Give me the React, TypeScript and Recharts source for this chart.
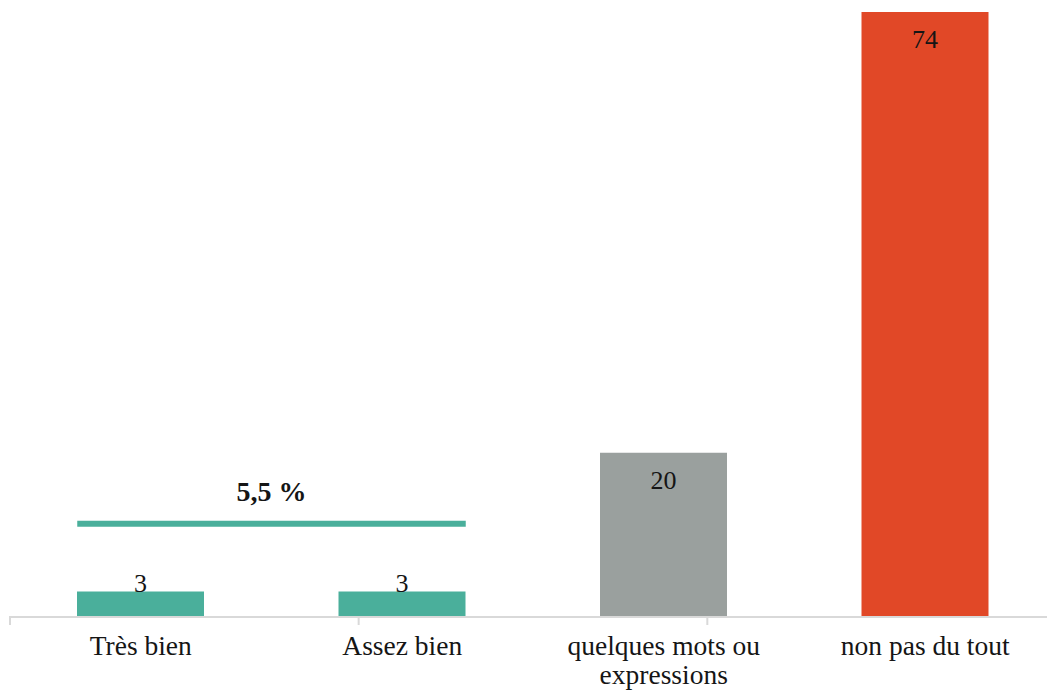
import { BarChart, Bar, XAxis, YAxis, Cell, LabelList, ReferenceLine } from "recharts";

// category labels as they break onto lines under the axis
const tickLines = [["Très bien"], ["Assez bien"], ["quelques mots ou", "expressions"], ["non pas du tout"]];
const categories = tickLines.map((lines) => lines.join(" "));
const values = [3, 3, 20, 74];
const barColors = ["#4aaf9b", "#4aaf9b", "#9aa09e", "#e14827"];
const edgeTicks = [0, 1, 2, 3, 4];

// bracket above the two "bien" bars with their combined share
const groupLabel = "5,5 %";
const groupLevel = 11.3;
const groupFrom = "Très bien";
const groupTo = "Assez bien";

const data = categories.map((name, i) => ({ name, value: values[i] }));

const FONT = "'Liberation Serif', 'DejaVu Serif', serif";
const BAR_SIZE = 127;

const CategoryTick = (props: any) => {
  const { x, y, index } = props;
  const lines = tickLines[index] ?? [props.payload.value];
  return (
    <text x={x} y={y} textAnchor="middle" fontSize={27.5} fontFamily={FONT} fill="#151515">
      {lines.map((line, i) => (
        <tspan key={i} x={x} dy={i === 0 ? 20 : 29}>
          {line}
        </tspan>
      ))}
    </text>
  );
};

const EmptyTick = () => null;

const ValueLabel = (props: any) => {
  const { x, y, width, height, value } = props;
  const inside = height > 60;
  return (
    <text
      x={x + width / 2}
      y={inside ? y + 36 : y}
      textAnchor="middle"
      fontSize={26}
      fontFamily={FONT}
      fill="#151515"
    >
      {value}
    </text>
  );
};

const GroupLine = (props: any) => {
  const { x1, y1, x2, y2 } = props;
  const half = BAR_SIZE / 2;
  return <line x1={x1 - half} y1={y1} x2={x2 + half} y2={y2} stroke="#4aaf9b" strokeWidth={6} />;
};

export default function App() {
  return (
    <div style={{ position: "absolute", left: 0, top: 0, width: 1047, height: 692, overflow: "hidden", background: "#fff" }}>
      <BarChart width={1060} height={692} data={data} margin={{ top: 12, right: 4, left: 10, bottom: 0 }}>
        {/* band boundary ticks, sits right on the baseline */}
        <XAxis
          xAxisId={0}
          type="number"
          domain={[0, 4]}
          ticks={edgeTicks}
          tick={<EmptyTick />}
          axisLine={false}
          tickLine={{ stroke: "#d9d9d9", strokeWidth: 2 }}
          tickSize={9}
          height={1}
        />
        <XAxis
          xAxisId="names"
          dataKey="name"
          axisLine={{ stroke: "#d9d9d9", strokeWidth: 2 }}
          tickLine={false}
          tickSize={0}
          tickMargin={18}
          height={75}
          interval={0}
          tick={<CategoryTick />}
        />
        <YAxis hide domain={[0, 74]} />
        <Bar xAxisId="names" dataKey="value" barSize={BAR_SIZE} isAnimationActive={false}>
          {data.map((d, i) => (
            <Cell key={d.name} fill={barColors[i]} />
          ))}
          <LabelList dataKey="value" content={<ValueLabel />} />
        </Bar>
        <ReferenceLine
          xAxisId="names"
          segment={[
            { x: groupFrom, y: groupLevel },
            { x: groupTo, y: groupLevel },
          ]}
          shape={<GroupLine />}
          label={{
            value: groupLabel,
            position: "top",
            offset: 23,
            fontSize: 28,
            fontWeight: "bold",
            fontFamily: FONT,
            fill: "#151515",
          }}
        />
      </BarChart>
    </div>
  );
}
